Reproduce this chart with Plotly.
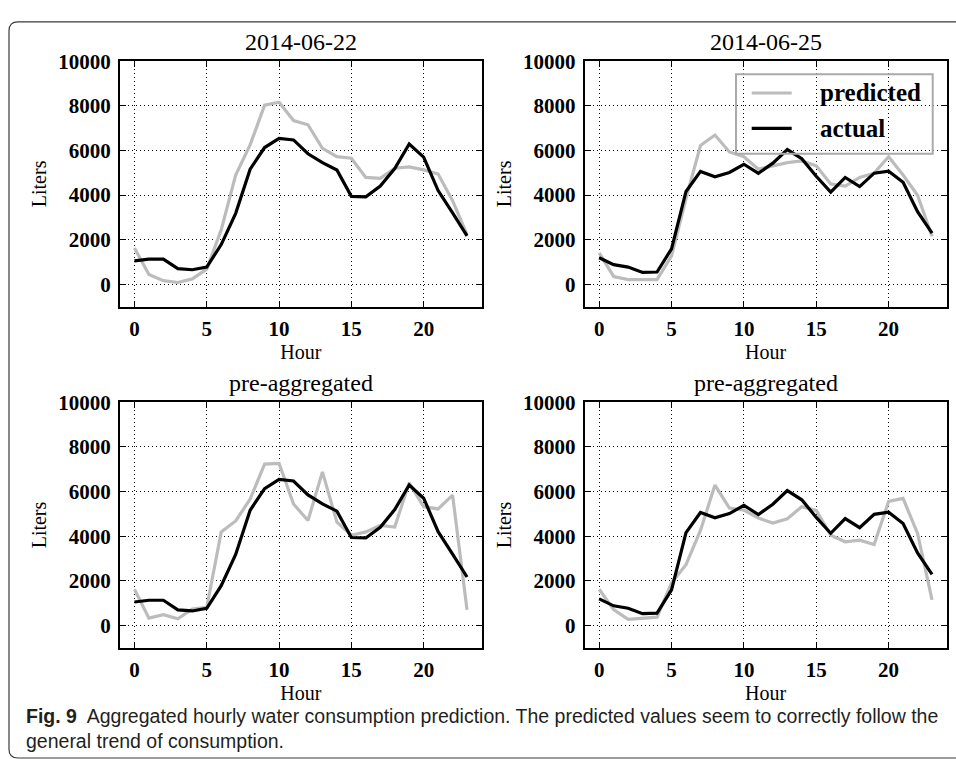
import plotly.graph_objects as go

W, H = 956, 759

hours = list(range(24))

actual_0622 = [1050, 1130, 1130, 700, 650, 770, 1780, 3180, 5160, 6130, 6540, 6470,
               5850, 5450, 5120, 3940, 3920, 4400, 5190, 6290, 5700, 4200, 3200, 2170]
predicted_0622 = [1630, 440, 160, 80, 240, 680, 2440, 4900, 6250, 8030, 8160, 7340,
                  7150, 6090, 5720, 5650, 4790, 4750, 5200, 5260, 5130, 4940, 3750, 2230]

actual_0625 = [1190, 880, 770, 530, 550, 1590, 4160, 5060, 4820, 5010, 5380, 4970,
               5430, 6040, 5630, 4840, 4130, 4790, 4380, 4980, 5070, 4570, 3250, 2290]
predicted_0625 = [1410, 350, 210, 200, 210, 1270, 3840, 6220, 6690, 5930, 5720, 5160,
                  5310, 5450, 5530, 5310, 4500, 4400, 4790, 4980, 5720, 4900, 3990, 2150]

predicted_pre_0622 = [1620, 330, 480, 300, 740, 810, 4190, 4680, 5660, 7230, 7260, 5440,
                      4700, 6880, 4630, 4040, 4190, 4480, 4410, 6390, 5320, 5220, 5840, 700]
predicted_pre_0625 = [1620, 710, 270, 330, 370, 1910, 2720, 4260, 6290, 5260, 5170, 4810,
                      4590, 4780, 5320, 5150, 4040, 3750, 3820, 3630, 5560, 5690, 4120, 1150]

titles = ["2014-06-22", "2014-06-25", "pre-aggregated", "pre-aggregated"]
panels = [
    (predicted_0622, actual_0622),
    (predicted_0625, actual_0625),
    (predicted_pre_0622, actual_0622),
    (predicted_pre_0625, actual_0625),
]
x_ticks = [0, 5, 10, 15, 20]
y_ticks = [0, 2000, 4000, 6000, 8000, 10000]
y_tick_labels = ["0", "2000", "4000", "6000", "8000", "10000"]
series_names = ["predicted", "actual"]

GRAY = "#bcbcbc"
SERIF = "Liberation Serif, Times New Roman, serif"
colors = [GRAY, "black"]

# pixel geometry of the four plot areas (left, right, top, bottom)
boxes = [
    (120, 481.5, 50, 299.3),
    (584.7, 946.5, 50, 299.3),
    (120, 481.5, 396.5, 646),
    (584.7, 946.5, 396.5, 646),
]

fig = go.Figure()

for i, (series, title, (l, r, t, b)) in enumerate(zip(panels, titles, boxes)):
    n = "" if i == 0 else str(i + 1)
    xa, ya = "x" + n, "y" + n
    for vals, name, col in zip(series, series_names, colors):
        fig.add_trace(go.Scatter(x=hours, y=vals, mode="lines", name=name,
                                 line=dict(color=col, width=3.2), xaxis=xa, yaxis=ya,
                                 showlegend=False))
    common = dict(showline=True, linecolor="black", linewidth=2, mirror="ticks",
                  ticks="inside", ticklen=6, tickwidth=1.3, tickcolor="black",
                  showgrid=True, gridcolor="black", gridwidth=1, griddash="1px,3px",
                  zeroline=False,
                  tickfont=dict(family=SERIF, size=21, color="black", weight="bold"))
    fig.layout["xaxis" + n] = dict(
        domain=[l / W, r / W], range=[-1, 24], tickvals=x_ticks,
        anchor=ya, ticklabelstandoff=2,
        title=dict(text="Hour", font=dict(family=SERIF, size=20, color="black"), standoff=3),
        **common)
    fig.layout["yaxis" + n] = dict(
        domain=[1 - b / H, 1 - t / H], range=[-1000, 10000],
        tickvals=y_ticks, ticktext=y_tick_labels,
        anchor=xa, ticklabelstandoff=3,
        title=dict(text="Liters", font=dict(family=SERIF, size=20, color="black"), standoff=6),
        **common)
    fig.add_annotation(text=title, xref="paper", yref="paper",
                       x=(l + r) / 2 / W, y=1 - (t - 4) / H, xanchor="center", yanchor="bottom",
                       showarrow=False, font=dict(family=SERIF, size=24, color="black"))

# helper: pixel -> paper
def pxx(x):
    return x / W

def pxy(y):
    return 1 - y / H

# legend (drawn in the top-right panel, as in the reference)
fig.add_shape(type="rect", xref="paper", yref="paper",
              x0=pxx(736), x1=pxx(932.7), y0=pxy(144), y1=pxy(63.3),
              line=dict(color="#aaaaaa", width=2), fillcolor="rgba(0,0,0,0)")
for name, col, ly in zip(series_names, colors, [82.3, 118.3]):
    fig.add_shape(type="line", xref="paper", yref="paper",
                  x0=pxx(751.7), x1=pxx(791.7), y0=pxy(ly), y1=pxy(ly),
                  line=dict(color=col, width=3.2))
    fig.add_annotation(text=name, xref="paper", yref="paper",
                       x=pxx(818), y=pxy(ly), xanchor="left", yanchor="middle",
                       showarrow=False,
                       font=dict(family=SERIF, size=25, color="black", weight="bold"))

# caption
fig.add_annotation(
    text="<b>Fig. 9</b>  Aggregated hourly water consumption prediction. The predicted values seem to correctly follow the<br>general trend of consumption.",
    xref="paper", yref="paper", x=24 / W, y=1 - 702 / H, xanchor="left", yanchor="top",
    align="left", showarrow=False,
    font=dict(family="Liberation Sans, Arial, sans-serif", size=19.5, color="#231f20"))

# rounded outer frame
def px(x, y):
    return f"{x / W:.5f},{1 - y / H:.5f}"

frame = (f"M{px(960, 10)} L{px(18, 10)} Q{px(9, 10)} {px(9, 19)} "
         f"L{px(9, 749)} Q{px(9, 758)} {px(18, 758)} L{px(960, 758)}")
fig.add_shape(type="path", path=frame, xref="paper", yref="paper",
              line=dict(color="#3a3a3a", width=1.2))

fig.update_layout(
    width=W, height=H, margin=dict(l=0, r=0, t=0, b=0),
    paper_bgcolor="white", plot_bgcolor="white",
    showlegend=False,
)

fig.write_html("out.html")
